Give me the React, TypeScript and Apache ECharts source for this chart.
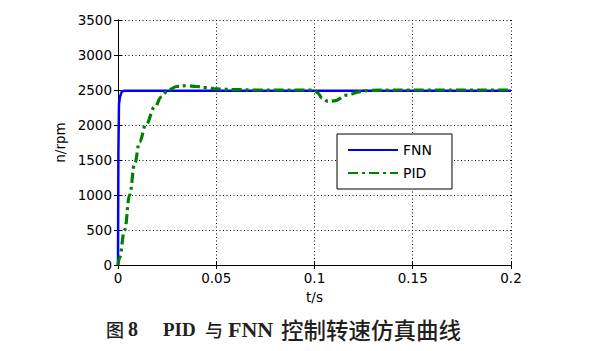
import React, { useEffect, useRef } from "react";
import * as echarts from "echarts";

const fnnT = [0, 0.0002, 0.0005, 0.001, 0.0018, 0.003, 0.01, 0.2];
const fnnV = [0, 1600, 2300, 2400, 2470, 2490, 2490, 2490];

const pidT = [0, 0.0007, 0.0034, 0.0059, 0.0085, 0.011, 0.0141, 0.0188, 0.022, 0.0255, 0.03, 0.035, 0.04, 0.045, 0.05, 0.06, 0.07, 0.1, 0.1015, 0.104, 0.107, 0.11, 0.1166, 0.1233, 0.128, 0.14, 0.2];
const pidV = [0, 100, 500, 1000, 1450, 1760, 2000, 2262, 2400, 2500, 2550, 2562, 2550, 2535, 2515, 2505, 2500, 2500, 2460, 2380, 2335, 2345, 2428, 2476, 2495, 2500, 2500];

const xTicks = [0, 0.05, 0.1, 0.15, 0.2];
const yMax = 3500;
const yStep = 500;

const seriesNames = ["FNN", "PID"];
const xName = "t/s";
const yName = "n/rpm";

export default function App() {
  const ref = useRef<HTMLDivElement>(null);
  useEffect(() => {
    if (!ref.current) return;
    const chart = echarts.init(ref.current, null, { renderer: "svg" });
    const font = "DejaVu Sans, sans-serif";
    const serif = "Liberation Serif, Times New Roman, serif";
    const cjk = "Noto Sans CJK SC";
    const ink = "#231f20";
    const grid = { left: 118, right: 89, top: 20, bottom: 86 };
    const dotted = { show: true, lineStyle: { color: "#000", type: [1, 2.5] as any, width: 1 } };
    const tick = { show: true, inside: true, length: 4, lineStyle: { color: "#000" } };
    const axLine = { show: true, lineStyle: { color: "#000", width: 1 } };
    chart.setOption({
      animation: false,
      backgroundColor: "#fff",
      grid,
      legend: {
        data: seriesNames.map((n) => ({ name: n, itemStyle: { opacity: 0 } })),
        orient: "vertical",
        left: 337,
        top: 134,
        itemWidth: 50,
        itemHeight: 14,
        itemGap: 9,
        padding: [9, 20, 9, 10],
        backgroundColor: "#fff",
        borderColor: "#000",
        borderWidth: 1,
        borderRadius: 0,
        textStyle: { fontFamily: font, fontSize: 14, color: "#000" },
      },
      xAxis: [
        {
          type: "value",
          min: 0,
          max: 0.2,
          interval: 0.05,
          name: xName,
          nameLocation: "middle",
          nameGap: 25,
          nameTextStyle: { fontFamily: font, fontSize: 13.5, color: "#000" },
          axisLine: axLine,
          axisTick: tick,
          axisLabel: {
            fontFamily: font,
            fontSize: 13.5,
            color: "#000",
            margin: 6,
            formatter: (v: number) => {
              const t = xTicks.find((x) => Math.abs(x - v) < 1e-9);
              return t === undefined ? "" : String(t);
            },
          },
          splitLine: dotted,
        },
        {
          type: "value",
          position: "top",
          min: 0,
          max: 0.2,
          interval: 0.05,
          axisLine: axLine,
          axisTick: tick,
          axisLabel: { show: false },
          splitLine: { show: false },
        },
      ],
      yAxis: [
        {
          type: "value",
          min: 0,
          max: yMax,
          interval: yStep,
          name: yName,
          nameLocation: "middle",
          nameGap: 40,
          nameTextStyle: { fontFamily: font, fontSize: 13.5, color: "#000" },
          axisLine: axLine,
          axisTick: tick,
          axisLabel: { fontFamily: font, fontSize: 13.5, color: "#000", margin: 6, formatter: (v: number) => String(v) },
          splitLine: dotted,
        },
        {
          type: "value",
          position: "right",
          min: 0,
          max: yMax,
          interval: yStep,
          axisLine: axLine,
          axisTick: tick,
          axisLabel: { show: false },
          splitLine: { show: false },
        },
      ],
      series: [
        {
          name: seriesNames[0],
          type: "line",
          symbol: "none",
          data: fnnT.map((t, i) => [t, fnnV[i]]),
          lineStyle: { color: "#0000ff", width: 2.5 },
          itemStyle: { color: "#0000ff" },
          z: 3,
        },
        {
          name: seriesNames[1],
          type: "line",
          symbol: "none",
          smooth: 0.4,
          smoothMonotone: "x",
          data: pidT.map((t, i) => [t, pidV[i]]),
          lineStyle: { color: "#008000", width: 3.2, type: [10, 4, 3, 4] as any },
          itemStyle: { color: "#008000" },
          z: 4,
        },
      ],
      graphic: [
        { type: "text", x: 106, y: 329, style: { text: "图", fontFamily: cjk, fontSize: 18, fontWeight: 500, fill: ink, verticalAlign: "middle" } },
        { type: "text", x: 128, y: 329, style: { text: "8", fontFamily: serif, fontSize: 20, fontWeight: "bold", fill: ink, verticalAlign: "middle" } },
        { type: "text", x: 163, y: 329, style: { text: "PID", fontFamily: serif, fontSize: 19, fontWeight: "bold", fill: ink, verticalAlign: "middle" } },
        { type: "text", x: 205, y: 329, style: { text: "与", fontFamily: cjk, fontSize: 18, fontWeight: 500, fill: ink, verticalAlign: "middle" } },
        { type: "text", x: 228, y: 329, style: { text: "FNN", fontFamily: serif, fontSize: 22, fontWeight: "bold", fill: ink, verticalAlign: "middle" } },
        { type: "text", x: 281, y: 329, style: { text: "控制转速仿真曲线", fontFamily: cjk, fontSize: 22.5, fontWeight: 500, fill: ink, verticalAlign: "middle" } },
      ],
    });
    return () => chart.dispose();
  }, []);
  return <div ref={ref} style={{ width: 600, height: 351, position: "absolute", left: 0, top: 0 }} />;
}
